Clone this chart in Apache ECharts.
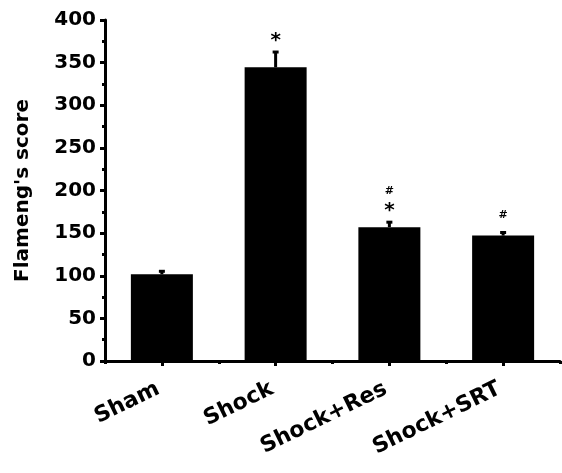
<!DOCTYPE html>
<html>
<head>
<meta charset="utf-8">
<script src="https://cdn.jsdelivr.net/npm/echarts@6/dist/echarts.min.js"></script>
<style>
  html, body { margin: 0; padding: 0; background: #fff; }
  #chart { width: 562px; height: 473px; }
</style>
</head>
<body>
<div id="chart"></div>
<script>
// Groups and measured scores (mean with upper SEM whisker)
const categories = ['Sham', 'Shock', 'Shock+Res', 'Shock+SRT'];
const means = [101.7, 344.5, 157.0, 147.1];
const errors = [4.7, 19.1, 7.0, 4.8];
const marks = ['', '*', '#*', '#'];
const yTicks = { min: 0, max: 400, interval: 50 };

const FONT = '"DejaVu Sans", sans-serif';
const chart = echarts.init(document.getElementById('chart'), null, { renderer: 'canvas' });

const errTop = means.map((m, i) => m + errors[i]);

chart.setOption({
  animation: false,
  backgroundColor: '#fff',
  grid: { left: 105, right: 2, top: 20, bottom: 112, containLabel: false },
  xAxis: [
    {
      type: 'category',
      data: categories,
      axisLine: { lineStyle: { color: '#000', width: 3 } },
      axisTick: { show: true, alignWithLabel: true, length: 5, lineStyle: { color: '#000', width: 3 } },
      axisLabel: {
        rotate: 26, margin: 25, padding: [0, 4, 0, 0],
        color: '#000', fontSize: 22, fontWeight: 'bold', fontFamily: FONT
      }
    },
    {
      // small ticks on the category boundaries
      type: 'category',
      data: categories,
      position: 'bottom',
      axisLine: { show: false },
      axisTick: { show: true, length: 3, lineStyle: { color: '#000', width: 3 } },
      axisLabel: { show: false }
    }
  ],
  yAxis: {
    type: 'value',
    min: yTicks.min, max: yTicks.max, interval: yTicks.interval,
    name: "Flameng's score",
    nameLocation: 'middle',
    nameGap: 72,
    nameRotate: 90,
    nameTextStyle: { color: '#000', fontSize: 20, fontWeight: 'bold', fontFamily: FONT },
    axisLine: { show: true, lineStyle: { color: '#000', width: 3 } },
    axisTick: { show: true, length: 5, lineStyle: { color: '#000', width: 3 } },
    minorTick: { show: true, splitNumber: 2, length: 3, lineStyle: { color: '#000', width: 3 } },
    splitLine: { show: false },
    axisLabel: { margin: 9, color: '#000', fontSize: 20, fontWeight: 'bold', fontFamily: FONT }
  },
  series: [
    {
      type: 'bar',
      data: means,
      barWidth: 62,
      itemStyle: { color: '#000' },
      z: 2
    },
    {
      // upper error whiskers with caps, plus significance marks
      type: 'custom',
      data: means.map((m, i) => [i, m, errTop[i]]),
      renderItem: function (params, api) {
        const i = params.dataIndex;
        const x = api.value(0);
        const base = api.coord([x, api.value(1)]);
        const top = api.coord([x, api.value(2)]);
        const cap = 3;
        const children = [
          { type: 'line', shape: { x1: base[0], y1: base[1], x2: top[0], y2: top[1] },
            style: { stroke: '#000', lineWidth: 3 } },
          { type: 'line', shape: { x1: top[0] - cap, y1: top[1] + 1, x2: top[0] + cap, y2: top[1] + 1 },
            style: { stroke: '#000', lineWidth: 3 } }
        ];
        const m = marks[i];
        const hasStar = m.indexOf('*') >= 0;
        if (hasStar) {
          children.push({ type: 'text', x: top[0], y: top[1] - 10,
            style: { text: '*', fill: '#000', font: 'bold 20px ' + FONT, align: 'center', verticalAlign: 'middle' } });
        }
        if (m.indexOf('#') >= 0) {
          children.push({ type: 'text', x: top[0], y: top[1] - (hasStar ? 30 : 16),
            style: { text: '#', fill: '#000', font: 'bold 11px ' + FONT, align: 'center', verticalAlign: 'middle' } });
        }
        return { type: 'group', children: children };
      },
      z: 3
    }
  ]
});
</script>
</body>
</html>
